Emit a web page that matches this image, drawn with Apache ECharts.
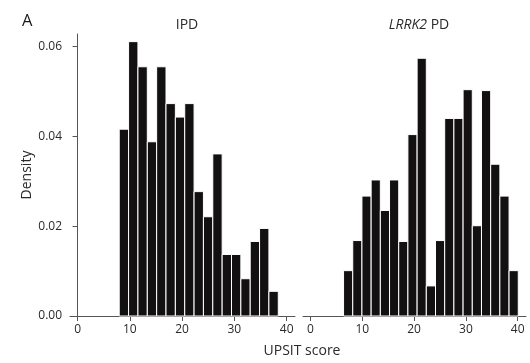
<!DOCTYPE html>
<html><head><meta charset="utf-8">
<script src="https://cdn.jsdelivr.net/npm/echarts@6/dist/echarts.min.js"></script>
<style>html,body{margin:0;padding:0;background:#fff}#c{width:530px;height:363px}</style>
</head><body><div id="c"></div>
<script>
const panelLabel = 'A';
const panelTitles = ['IPD', 'LRRK2 PD'];
const xAxisName = 'UPSIT score';
const yAxisName = 'Density';
const xTicks = [0, 10, 20, 30, 40];
const yTicks = [0, 0.02, 0.04, 0.06];
const ipdBinStart = 7.97, ipdBinWidth = 1.79;
const ipdDensity = [0.0416, 0.0611, 0.0555, 0.0388, 0.0555, 0.0473, 0.0443, 0.0473, 0.0277, 0.0221, 0.0361, 0.0137, 0.0137, 0.0083, 0.0166, 0.0195, 0.0055];
const lrrk2BinStart = 6.38, lrrk2BinWidth = 1.775;
const lrrk2Density = [0.0101, 0.0168, 0.0267, 0.0303, 0.0235, 0.0303, 0.0166, 0.0404, 0.0574, 0.0067, 0.0168, 0.0440, 0.0440, 0.0504, 0.0201, 0.0502, 0.0338, 0.0267, 0.0101];

function toBins(start, w, vals) {
  return vals.map((v, i) => [start + i * w, start + (i + 1) * w, v]);
}
function renderBar(params, api) {
  const p0 = api.coord([api.value(0), api.value(2)]);
  const p1 = api.coord([api.value(1), 0]);
  return {
    type: 'rect',
    shape: { x: p0[0], y: p0[1], width: p1[0] - p0[0], height: p1[1] - p0[1] },
    style: { fill: '#121010', stroke: '#ffffff', lineWidth: 1 }
  };
}
const FONT = '"Open Sans", sans-serif';
const axisCol = '#555';
function xAx(idx) {
  return {
    type: 'value', gridIndex: idx, min: -1.45, max: 41.6,
    axisLine: { show: true, lineStyle: { color: axisCol, width: 1 } },
    axisTick: { show: true, customValues: xTicks, length: 5, lineStyle: { color: axisCol } },
    axisLabel: { customValues: xTicks, color: '#2a2a2a', fontSize: 12, fontFamily: FONT, margin: 8 },
    splitLine: { show: false }
  };
}
const chart = echarts.init(document.getElementById('c'));
chart.setOption({
  animation: false,
  backgroundColor: '#fff',
  grid: [
    { left: 70, right: 235, top: 34, bottom: 47 },
    { left: 303, right: 4, top: 34, bottom: 47 }
  ],
  xAxis: [xAx(0), xAx(1)],
  yAxis: [
    {
      type: 'value', gridIndex: 0, min: 0, max: 0.0628,
      axisLine: { show: true, lineStyle: { color: axisCol, width: 1 } },
      axisTick: { show: true, customValues: yTicks, length: 5, lineStyle: { color: axisCol } },
      axisLabel: { customValues: yTicks, color: '#2a2a2a', fontSize: 12, fontFamily: FONT, margin: 8,
        formatter: v => v.toFixed(2) },
      splitLine: { show: false }
    },
    { type: 'value', gridIndex: 1, min: 0, max: 0.0628, show: false }
  ],
  title: [
    { text: panelLabel, left: 17, top: 8, textStyle: { fontFamily: FONT, fontSize: 16.5, fontWeight: 'normal', color: '#1a1a1a' } },
    { text: panelTitles[0], left: 182, top: 13, textAlign: 'center', textStyle: { fontFamily: FONT, fontSize: 14, fontWeight: 'normal', color: '#2a2a2a' } },
    { text: '{i|LRRK2} PD', left: 414, top: 13, textAlign: 'center', textStyle: { fontFamily: FONT, fontSize: 14, fontWeight: 'normal', color: '#2a2a2a',
        rich: { i: { fontFamily: FONT, fontSize: 14, fontStyle: 'italic', color: '#2a2a2a' } } } },
    { text: xAxisName, left: 297, top: 339, textAlign: 'center', textStyle: { fontFamily: FONT, fontSize: 14, fontWeight: 'normal', color: '#2a2a2a' } }
  ],
  graphic: [
    { type: 'text', x: 27, y: 175, rotation: Math.PI / 2,
      style: { text: yAxisName, font: '14px ' + FONT, fill: '#2a2a2a', align: 'center', verticalAlign: 'middle' } }
  ],
  series: [
    { type: 'custom', xAxisIndex: 0, yAxisIndex: 0, renderItem: renderBar, encode: { x: [0, 1], y: 2 },
      data: toBins(ipdBinStart, ipdBinWidth, ipdDensity) },
    { type: 'custom', xAxisIndex: 1, yAxisIndex: 1, renderItem: renderBar, encode: { x: [0, 1], y: 2 },
      data: toBins(lrrk2BinStart, lrrk2BinWidth, lrrk2Density) }
  ]
});
</script></body></html>
